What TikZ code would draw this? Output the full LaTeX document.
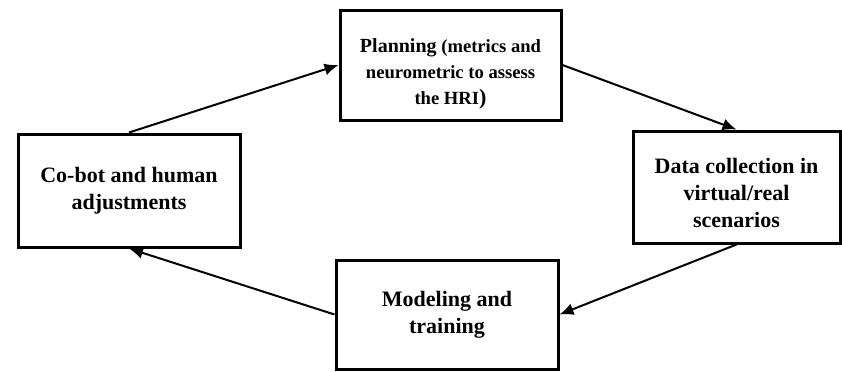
\documentclass[tikz,border=0pt]{standalone}
\usepackage{fontspec}
\setmainfont{Liberation Serif}
\usepackage{tikz}
\usetikzlibrary{arrows.meta}
\newcommand{\lowtext}[1]{\raisebox{-4pt}[\height][\depth]{\begin{tabular}{@{}c@{}}#1\end{tabular}}}

\begin{document}
\begin{tikzpicture}[>={Latex[length=7pt,width=6pt]},x=0.5pt,y=-0.5pt,
  stage/.style={draw,line width=1.5pt,align=center,font=\bfseries\fontsize{11}{13.5}\selectfont,
    inner sep=0pt},
  flow/.style={->,line width=1pt}]
\useasboundingbox (0,0) rectangle (842,371);
\node[stage,minimum width=110.5pt,minimum height=55pt,font=\bfseries\fontsize{9.3}{13}\selectfont] (P) at (450.5,65)
  {\lowtext{{\fontsize{10}{13}\selectfont Planning} (metrics and\\neurometric to assess\\the HRI{\fontsize{11}{13}\selectfont)}}};
\node[stage,minimum width=103.5pt,minimum height=56pt] (D) at (736.5,187)
  {\lowtext{Data collection in\\virtual/real\\scenarios}};
\node[stage,minimum width=111pt,minimum height=54.5pt] (M) at (447,314.5)
  {Modeling and\\training};
\node[stage,minimum width=111pt,minimum height=56.5pt] (C) at (129,190.5)
  {Co-bot and human\\adjustments};
\draw[flow] (C.north)--(P.west);
\draw[flow] (P.east)--(D.north);
\draw[flow] (D.south)--(M.east);
\draw[flow] (M.west)--(C.south);
\end{tikzpicture}
\end{document}
